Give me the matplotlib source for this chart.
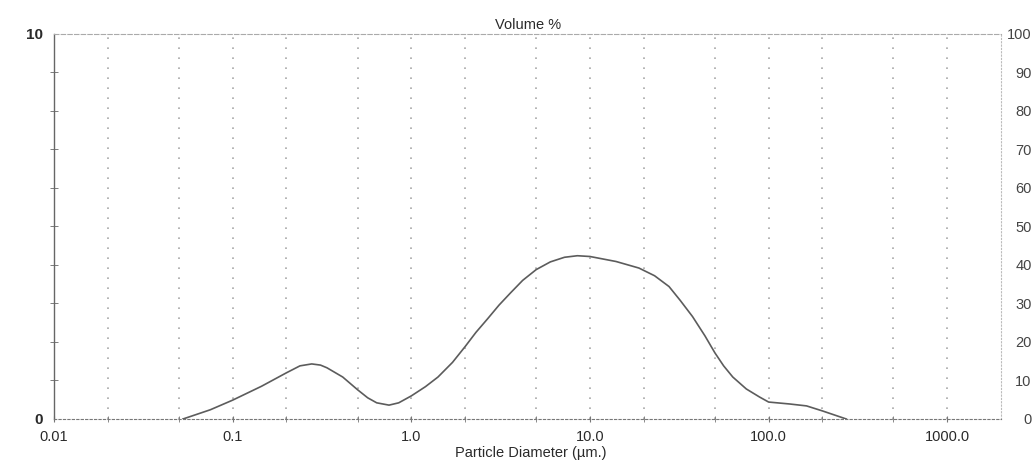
# ── Imports ───────────────────────────────────────────────────────────────────
import matplotlib
matplotlib.use('Agg')
import matplotlib.pyplot as plt
from matplotlib.ticker import FixedLocator, NullFormatter

plt.rcParams['font.family'] = ['Liberation Sans', 'DejaVu Sans']

diameter = [0.0527, 0.075, 0.1, 0.145, 0.2, 0.238, 0.277, 0.31, 0.337, 0.413,
            0.5, 0.57, 0.64, 0.75, 0.85, 1.0, 1.2, 1.41, 1.7, 2.0, 2.3, 2.67,
            3.1, 3.6, 4.2, 5.0, 6.0, 7.2, 8.5, 10.0, 14.0, 18.8, 23.0, 27.7,
            32.0, 37.5, 44.0, 50.0, 56.0, 63.0, 75.0, 89.0, 100.0, 131.0,
            163.0, 200.0, 235.0, 272.0]
volume = [0.0, 0.24, 0.49, 0.85, 1.20, 1.38, 1.43, 1.40, 1.33, 1.09,
          0.76, 0.55, 0.42, 0.36, 0.42, 0.60, 0.84, 1.09, 1.47, 1.88, 2.25, 2.60,
          2.96, 3.28, 3.60, 3.88, 4.08, 4.20, 4.24, 4.22, 4.09, 3.92, 3.72, 3.44,
          3.08, 2.66, 2.16, 1.72, 1.38, 1.09, 0.78, 0.57, 0.44, 0.39,
          0.34, 0.21, 0.10, 0.0]

major_x = [0.01, 0.1, 1.0, 10.0, 100.0, 1000.0]
major_labels = ['0.01', '0.1', '1.0', '10.0', '100.0', '1000.0']
grid_x = [0.02, 0.05, 0.1, 0.2, 0.5, 1, 2, 5, 10, 20, 50, 100, 200, 500, 1000]
right_ticks = [0, 10, 20, 30, 40, 50, 60, 70, 80, 90, 100]

TXT = '#2a2a2a'
GRID = '#a8a8a8'

# ── Figure ────────────────────────────────────────────────────────────────────
fig = plt.figure(figsize=(10.35, 4.67), dpi=100)
ax = fig.add_axes([0.0522, 0.1028, 0.9150, 0.8245])
ax.set_xscale('log')
ax.set_xlim(0.01, 2000)
ax.set_ylim(0, 10)

# dotted vertical grid
for g in grid_x:
    ax.axvline(g, color=GRID, linestyle=(0, (1, 5)), linewidth=1.2, zorder=1)

ax.plot(diameter, volume, color='#5c5c5c', linewidth=1.2, zorder=3)

# spines
ax.spines['left'].set_color('#666666')
ax.spines['left'].set_linewidth(1.0)
ax.spines['bottom'].set_color('#777777')
ax.spines['bottom'].set_linestyle((0, (2, 2)))
ax.spines['top'].set_color('#aaaaaa')
ax.spines['top'].set_linestyle((0, (4, 2)))
ax.spines['right'].set_color('#bbbbbb')
ax.spines['right'].set_linestyle((0, (1, 2)))

# x ticks
ax.xaxis.set_major_locator(FixedLocator(major_x))
ax.set_xticklabels(major_labels)
ax.xaxis.set_minor_locator(FixedLocator(grid_x))
ax.xaxis.set_minor_formatter(NullFormatter())
ax.tick_params(axis='x', which='both', direction='inout', length=4,
               color='#777777', pad=6, labelsize=10.5, labelcolor=TXT)

# left y ticks: labels only at 0 and 10, crossing ticks every unit
ax.set_yticks([0, 10])
ax.set_yticklabels(['0', '10'], fontweight='bold')
ax.yaxis.set_minor_locator(FixedLocator(range(1, 10)))
ax.tick_params(axis='y', which='major', length=0, pad=8, labelsize=11,
               labelcolor=TXT)
ax.tick_params(axis='y', which='minor', direction='inout', length=6,
               color='#666666')

# right y axis (cumulative scale)
ax2 = ax.twinx()
ax2.set_ylim(0, 100)
ax2.set_yticks(right_ticks)
ax2.tick_params(axis='y', length=0, pad=22, labelsize=10.5, labelcolor='#444444')
for lab in ax2.get_yticklabels():
    lab.set_horizontalalignment('right')
for s in ax2.spines.values():
    s.set_visible(False)

# titles
fig.text(0.510, 0.947, 'Volume %', ha='center', va='center', fontsize=10.5,
         color=TXT)
fig.text(0.513, 0.030, 'Particle Diameter (µm.)', ha='center', va='center',
         fontsize=10.5, color=TXT)

plt.savefig('out.png', dpi=100)
